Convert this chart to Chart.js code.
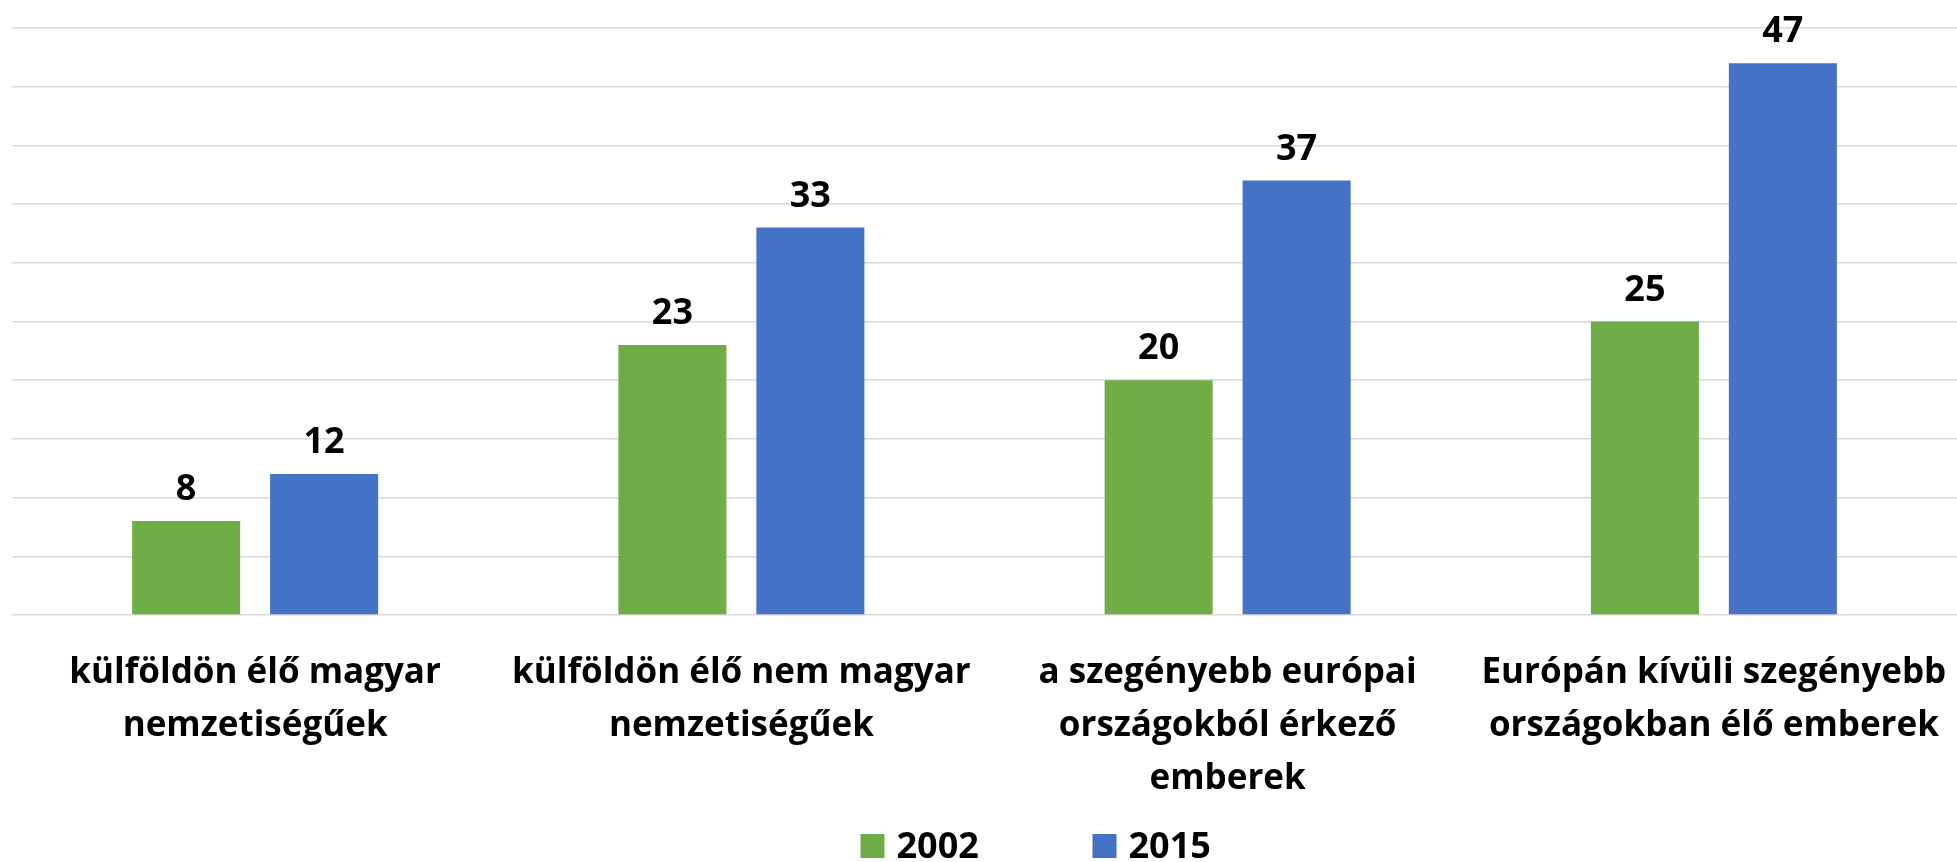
<!DOCTYPE html>
<html>
<head>
<meta charset="utf-8">
<script src="https://cdn.jsdelivr.net/npm/chart.js@4/dist/chart.umd.min.js"></script>
<style>
  html, body { margin: 0; padding: 0; background: #fff; }
  #wrap { width: 1957px; height: 862px; }
</style>
</head>
<body>
<div id="wrap"><canvas id="barChart"></canvas></div>
<script>
/* ================= DATA ================= */

const categories = [
    ['külföldön élő magyar', 'nemzetiségűek'],
    ['külföldön élő nem magyar', 'nemzetiségűek'],
    ['a szegényebb európai', 'országokból érkező', 'emberek'],
    ['Európán kívüli szegényebb', 'országokban élő emberek']
];

const seriesNames = ['2002', '2015'];
const values2002 = [8, 23, 20, 25];
const values2015 = [12, 33, 37, 47];

const yMin = 0;
const yMax = 50;
const yStep = 5;

/* ================= CHART ================= */

const FONT = '"Open Sans", Lato, sans-serif';
const colors = ['#70ad47', '#4472c4'];

// values above each bar
const barLabels = {
    id: 'barLabels',
    afterDatasetsDraw(chart) {
        const ctx = chart.ctx;
        ctx.save();
        ctx.font = 'bold 36px ' + FONT;
        ctx.fillStyle = '#000';
        ctx.textAlign = 'center';
        ctx.textBaseline = 'alphabetic';
        chart.data.datasets.forEach((ds, i) => {
            chart.getDatasetMeta(i).data.forEach((bar, j) => {
                ctx.fillText(ds.data[j], bar.x, bar.y - 21);
            });
        });
        ctx.restore();
    }
};

// legend under the axis labels
const bottomLegend = {
    id: 'bottomLegend',
    afterDraw(chart) {
        const ctx = chart.ctx;
        let x = chart.width / 2 - 118;
        const top = 834;
        ctx.save();
        ctx.font = 'bold 36px ' + FONT;
        ctx.textBaseline = 'alphabetic';
        ctx.textAlign = 'left';
        chart.data.datasets.forEach((ds, i) => {
            ctx.fillStyle = ds.backgroundColor;
            ctx.fillRect(x, top, 24, 24);
            ctx.fillStyle = '#000';
            ctx.fillText(ds.label, x + 36, top + 24);
            x += 232;
        });
        ctx.restore();
    }
};

const ctx = document.getElementById('barChart');

let barChart = new Chart(ctx, {
    type: 'bar',
    data: {
        labels: categories,
        datasets: [{
            label: seriesNames[0],
            data: values2002,
            backgroundColor: colors[0]
        }, {
            label: seriesNames[1],
            data: values2015,
            backgroundColor: colors[1]
        }]
    },
    options: {
        responsive: true,
        maintainAspectRatio: false,
        animation: false,
        categoryPercentage: 0.5675,
        barPercentage: 0.783,
        layout: {
            padding: { top: 28, left: 12, right: 0, bottom: 56 }
        },
        plugins: {
            legend: { display: false },
            tooltip: { enabled: false }
        },
        scales: {
            x: {
                // invisible tick marks give the gap under the axis
                grid: { display: true, color: 'transparent', drawOnChartArea: false, drawTicks: true, tickLength: 32 },
                border: { display: false },
                ticks: {
                    color: '#000',
                    padding: 0,
                    maxRotation: 0,
                    autoSkip: false,
                    font: { family: FONT, size: 35, weight: 'bold', lineHeight: '53px' }
                }
            },
            y: {
                min: yMin,
                max: yMax,
                border: { display: false },
                grid: { color: '#d9d9d9', lineWidth: 1.5, drawTicks: false },
                ticks: { display: false, stepSize: yStep }
            }
        }
    },
    plugins: [barLabels, bottomLegend]
});
</script>
</body>
</html>
